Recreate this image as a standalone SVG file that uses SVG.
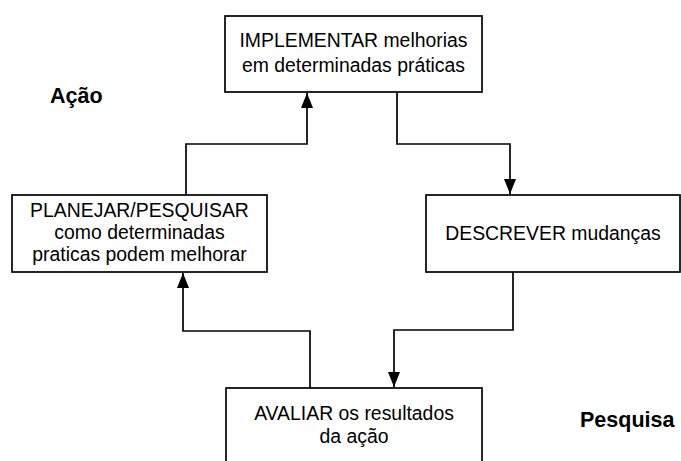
<svg xmlns="http://www.w3.org/2000/svg" width="681" height="461" viewBox="0 0 681 461">
  <style>
    .box { fill: #fff; stroke: #000; stroke-width: 1.7; }
    .lbl { font-family: "Liberation Sans", Arial, sans-serif; font-size: 19.4px; fill: #000; text-anchor: middle; }
    .side { font-family: "Liberation Sans", Arial, sans-serif; font-size: 21.5px; font-weight: bold; fill: #000; }
    .link { fill: none; stroke: #000; stroke-width: 1.7; marker-end: url(#arrow); }
  </style>
  <defs>
    <marker id="arrow" markerUnits="userSpaceOnUse" markerWidth="16" markerHeight="12" refX="15" refY="6" orient="auto">
      <path d="M0,0 L15,6 L0,12 z" fill="#000"/>
    </marker>
  </defs>
  <rect width="681" height="461" fill="#fff"/>

  <g id="connectors">
    <path class="link" d="M186,195 V144 H307 V93"/>
    <path class="link" d="M397,92 V144 H510 V194"/>
    <path class="link" d="M513,272 V330 H394 V387"/>
    <path class="link" d="M310,388 V331 H183 V273"/>
  </g>

  <g id="implementar">
    <rect class="box" x="225" y="16" width="257" height="76"/>
    <text class="lbl" x="353.5" y="47">IMPLEMENTAR melhorias</text>
    <text class="lbl" x="353.5" y="72">em determinadas práticas</text>
  </g>

  <g id="planejar">
    <rect class="box" x="12" y="195" width="255" height="77"/>
    <text class="lbl" x="139.5" y="217">PLANEJAR/PESQUISAR</text>
    <text class="lbl" x="139.5" y="239">como determinadas</text>
    <text class="lbl" x="139.5" y="261">praticas podem melhorar</text>
  </g>

  <g id="descrever">
    <rect class="box" x="426" y="195" width="254" height="77"/>
    <text class="lbl" x="553" y="240">DESCREVER mudanças</text>
  </g>

  <g id="avaliar">
    <rect class="box" x="226" y="388" width="256" height="90"/>
    <text class="lbl" x="354" y="420">AVALIAR os resultados</text>
    <text class="lbl" x="354" y="443">da ação</text>
  </g>

  <g id="acao">
    <text class="side" x="50" y="103">Ação</text>
  </g>
  <g id="pesquisa">
    <text class="side" x="580" y="427">Pesquisa</text>
  </g>
</svg>
